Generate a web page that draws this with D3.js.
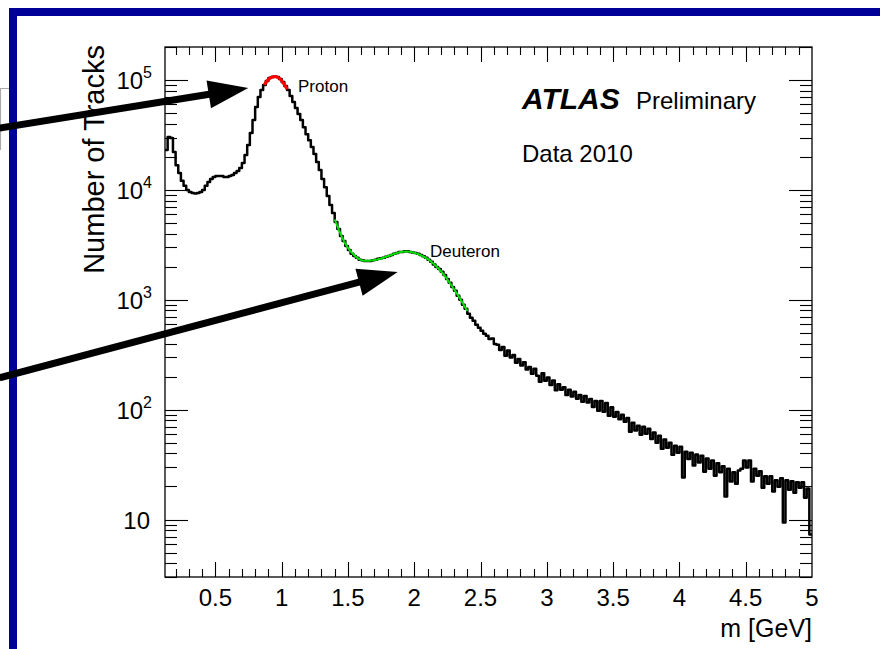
<!DOCTYPE html>
<html><head><meta charset="utf-8">
<script src="https://cdn.jsdelivr.net/npm/d3@7"></script>
<style>
body{margin:0;background:#fff;}
svg{display:block;}
text{font-family:"Liberation Sans",Arial,Helvetica,sans-serif;fill:#000;}
</style>
</head><body>
<svg id="c" width="880" height="649"></svg>
<script>
// ---------------- data ----------------
const binStart = 0.12;     // GeV, lower edge of first bin
const binWidth = 0.02;     // GeV
const trackCounts = [
  23100, 30300, 29700, 22200, 16800, 14300, 12100, 10900, 10000, 9590,
  9390, 9290, 9390, 9590, 10000, 10900, 11800, 12600, 13100, 13400,
  13400, 13400, 13100, 13100, 13400, 13700, 14300, 14900, 15800, 17600,
  20800, 25600, 32900, 43200, 56800, 70000, 81100, 90100, 97900, 104300,
  106500, 107600, 106500, 102100, 95900, 88200, 81100, 71500, 63100, 55600,
  49000, 43200, 37300, 32200, 28400, 24600, 21200, 18000, 15200, 12600,
  10600, 8820, 7300, 6180, 5110, 4410, 3810, 3430, 3090, 2840,
  2620, 2510, 2410, 2310, 2290, 2260, 2260, 2260, 2290, 2310,
  2360, 2385, 2410, 2460, 2510, 2560, 2620, 2670, 2730, 2730,
  2760, 2760, 2730, 2700, 2670, 2620, 2560, 2490, 2410, 2310,
  2220, 2100, 1990, 1910, 1800, 1680, 1550, 1430, 1310, 1210,
  1090, 1000, 901, 829, 746, 686, 644, 592, 556, 522,
  490, 470, 441, 445, 397, 389, 350, 372, 310, 345,
  298, 315, 268, 290, 252, 270, 232, 245, 212, 236,
  204, 180, 215, 183, 196, 168, 184, 150, 170, 152,
  160, 136, 152, 132, 146, 126, 136, 118, 133, 116,
  125, 106, 120, 98, 120, 95.9, 115, 88.0, 105, 86.4,
  95.5, 82.0, 90.0, 77.5, 84.0, 63.1, 76.0, 64.5, 71.5, 59.0,
  70.0, 60.5, 67.0, 54.0, 62.0, 50.0, 58.0, 44.0, 53.5, 45.0,
  50.0, 38.9, 47.0, 40.5, 46.0, 24.1, 41.5, 35.5, 40.5, 31.0,
  39.0, 33.0, 38.0, 27.3, 36.0, 29.0, 34.5, 25.1, 32.5, 27.0,
  30.5, 16.2, 29.0, 22.2, 27.0, 21.2, 28.0, 29.0, 34.5, 29.7,
  34.5, 22.2, 29.0, 25.1, 27.5, 19.5, 24.8, 21.2, 24.8, 18.0,
  22.8, 19.9, 23.8, 9.39, 22.8, 18.7, 22.3, 17.5, 21.8, 19.5,
  21.8, 15.8, 19.2, 7.30
];
const protonFitMass   = [0.869, 0.899, 0.929, 0.960, 0.990, 1.020, 1.043];
const protonFitCounts = [90100, 101300, 106500, 107300, 102100, 91000, 82900];
const deuteronFitMass   = [1.40, 1.50, 1.60, 1.70, 1.80, 1.90, 2.00, 2.10, 2.20, 2.30, 2.40];
const deuteronFitCounts = [5400, 2970, 2300, 2300, 2490, 2730, 2680, 2360, 1830, 1250, 793];
const xTickValues = [0.5, 1, 1.5, 2, 2.5, 3, 3.5, 4, 4.5, 5];
const xTickLabels = ["0.5", "1", "1.5", "2", "2.5", "3", "3.5", "4", "4.5", "5"];
const yDecades = [10, 100, 1000, 10000, 100000];
const yDecadeExponents = ["", "2", "3", "4", "5"];
const xDomain = [0.12, 5.0];
const yDomain = [3, 2e5];
const xTitle = "m [GeV]";
const yTitle = "Number of Tracks";
// annotation arrows: [mass, count] of tail and tip
const arrowTails = [[-1.128, 36600], [-1.128, 195]];
const arrowTips  = [[0.748, 84700], [1.875, 1794]];

// ---------------- layout ----------------
const svg = d3.select("#c");
const L = 165, R = 812, T = 47, B = 577;
const x = d3.scaleLinear().domain(xDomain).range([L, R]);
const y = d3.scaleLog().domain(yDomain).range([B, T]);

// slide frame (blue) + stray gray box edge
svg.append("rect").attr("x", 9).attr("y", 8).attr("width", 880).attr("height", 8).attr("fill", "#000099");
svg.append("rect").attr("x", 9).attr("y", 8).attr("width", 8).attr("height", 650).attr("fill", "#000099");
svg.append("path").attr("d", "M0.5,150 V88.5 H9").attr("fill", "none").attr("stroke", "#aaa").attr("stroke-width", 1.2);

// clip for plot
svg.append("clipPath").attr("id", "pc").append("rect")
  .attr("x", L).attr("y", T).attr("width", R - L).attr("height", B - T);

// histogram steps
const stepPts = trackCounts.map((v, i) => [binStart + i * binWidth, v]);
stepPts.push([binStart + trackCounts.length * binWidth, trackCounts[trackCounts.length - 1]]);
const stepLine = d3.line().x(d => x(d[0])).y(d => y(d[1])).curve(d3.curveStepAfter);
svg.append("path").attr("clip-path", "url(#pc)")
  .attr("d", stepLine(stepPts))
  .attr("fill", "none").attr("stroke", "#000").attr("stroke-width", 2.5).attr("stroke-linejoin", "round");

// fits
const fitLine = d3.line().x(d => x(d[0])).y(d => y(d[1])).curve(d3.curveCatmullRom);
svg.append("path").attr("d", fitLine(protonFitMass.map((m, i) => [m, protonFitCounts[i]])))
  .attr("fill", "none").attr("stroke", "#ff0000").attr("stroke-width", 3.2);
svg.append("path").attr("d", fitLine(deuteronFitMass.map((m, i) => [m, deuteronFitCounts[i]])))
  .attr("fill", "none").attr("stroke", "#00e000").attr("stroke-width", 2);

// frame
svg.append("rect").attr("x", L).attr("y", T).attr("width", R - L).attr("height", B - T)
  .attr("fill", "none").attr("stroke", "#000").attr("stroke-width", 1.3);

// x ticks (bottom & top)
const xMinor = d3.range(0.2, 5.0001, 0.1).filter(v => v >= xDomain[0] && v <= xDomain[1]);
const tg = svg.append("g").attr("stroke", "#000").attr("stroke-width", 1.1);
xMinor.forEach(v => {
  const isMajor = Math.abs(v * 2 - Math.round(v * 2)) < 1e-6;
  const len = isMajor ? 15 : 8;
  const px = Math.round(x(v)) + 0.5;
  tg.append("line").attr("x1", px).attr("x2", px).attr("y1", B).attr("y2", B - len);
  tg.append("line").attr("x1", px).attr("x2", px).attr("y1", T).attr("y2", T + len);
});
// y ticks (left & right)
const yMinor = [];
for (let e = 0; e <= 5; e++) for (let k = 1; k <= 9; k++) {
  const v = k * Math.pow(10, e);
  if (v >= yDomain[0] && v <= yDomain[1]) yMinor.push([v, k === 1]);
}
yMinor.forEach(([v, major]) => {
  const len = major ? 23 : 12;
  const py = Math.round(y(v)) + 0.5;
  tg.append("line").attr("x1", L).attr("x2", L + len).attr("y1", py).attr("y2", py);
  tg.append("line").attr("x1", R).attr("x2", R - len).attr("y1", py).attr("y2", py);
});

// x tick labels
svg.append("g").selectAll("text").data(xTickValues).join("text")
  .attr("x", d => x(d)).attr("y", 606).attr("text-anchor", "middle")
  .attr("font-size", 24).text((d, i) => xTickLabels[i]);
svg.append("text").attr("x", R).attr("y", 637).attr("text-anchor", "end")
  .attr("font-size", 25).text(xTitle);

// y tick labels
yDecades.forEach((v, i) => {
  const t = svg.append("text").attr("y", y(v) + 9).attr("font-size", 24).attr("text-anchor", "end");
  if (yDecadeExponents[i]) {
    t.attr("x", 152);
    t.append("tspan").text("10");
    t.append("tspan").attr("dy", -11).attr("font-size", 16).text(yDecadeExponents[i]);
  } else {
    t.attr("x", 150).text("10");
  }
});
svg.append("text").attr("transform", `translate(104,45) rotate(-90)`)
  .attr("text-anchor", "end").attr("font-size", 29).text(yTitle);

// in-plot labels
svg.append("text").attr("x", 298).attr("y", 92).attr("font-size", 17).attr("fill", "#222").text("Proton");
svg.append("text").attr("x", 430).attr("y", 257).attr("font-size", 17).attr("fill", "#222").text("Deuteron");
svg.append("text").attr("x", 522).attr("y", 109).attr("font-size", 30)
  .attr("font-weight", "bold").attr("font-style", "italic").text("ATLAS");
svg.append("text").attr("x", 636).attr("y", 109).attr("font-size", 24).text("Preliminary");
svg.append("text").attr("x", 522).attr("y", 162).attr("font-size", 24).text("Data 2010");

// arrows
arrowTails.forEach((t, i) => {
  const x0 = x(t[0]), y0 = y(t[1]);
  const x1 = x(arrowTips[i][0]), y1 = y(arrowTips[i][1]);
  const dx = x1 - x0, dy = y1 - y0, len = Math.hypot(dx, dy);
  const ux = dx / len, uy = dy / len, nx = -uy, ny = ux;
  const hl = 40, hw = 14;
  const bx = x1 - ux * hl, by = y1 - uy * hl;
  svg.append("line").attr("x1", x0).attr("y1", y0).attr("x2", bx + ux * 2).attr("y2", by + uy * 2)
    .attr("stroke", "#000").attr("stroke-width", 7);
  svg.append("polygon")
    .attr("points", [[x1, y1], [bx + nx * hw, by + ny * hw], [bx - nx * hw, by - ny * hw]].map(p => p.join(",")).join(" "))
    .attr("fill", "#000");
});
</script>
</body></html>
